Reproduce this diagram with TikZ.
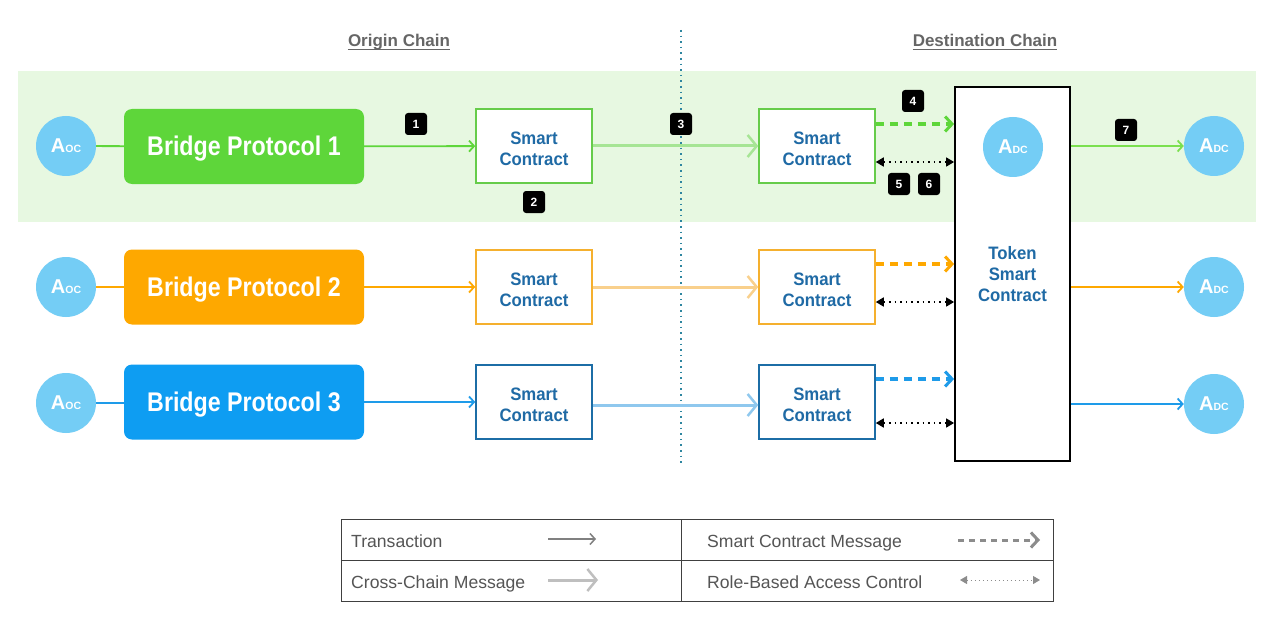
\documentclass[tikz,border=0pt]{standalone}
\usepackage{fontspec}
\setmainfont{Liberation Sans}
\newfontfamily\bpfont[FakeStretch=0.86]{Liberation Sans}
\newfontfamily\scfont[FakeStretch=0.93]{Liberation Sans}
\usetikzlibrary{arrows.meta}
\definecolor{band}{HTML}{E7F8E1}
\definecolor{circ}{HTML}{74CDF5}
\definecolor{bpgreen}{HTML}{5ED63A}
\definecolor{bporange}{HTML}{FEA800}
\definecolor{bpblue}{HTML}{0E9DF2}
\definecolor{scgreen}{HTML}{66CC4A}
\definecolor{scorange}{HTML}{F5B02E}
\definecolor{scblue}{HTML}{1C6DA6}
\definecolor{sctext}{HTML}{1F6AA5}
\definecolor{ccgreen}{HTML}{A6E594}
\definecolor{ccorange}{HTML}{F9D08C}
\definecolor{ccblue}{HTML}{8FC8EE}
\definecolor{outgreen}{HTML}{7BE04F}
\definecolor{outblue}{HTML}{1E9BE9}
\definecolor{divline}{HTML}{2E86A0}
\definecolor{headgray}{HTML}{666666}
\definecolor{leggray}{HTML}{555555}
\tikzset{
  acirc/.style={circle, fill=circ, minimum size=60pt, inner sep=0pt, text=white},
  bpbox/.style={rounded corners=8pt, minimum width=240pt, minimum height=75pt, inner sep=0pt, text=white, text height=19pt, text depth=0pt, font=\bpfont\bfseries\fontsize{27}{27}\selectfont},
  scbox/.style={draw, line width=1.5pt, fill=white, minimum width=116pt, minimum height=74pt, inner sep=0pt, align=center, text=sctext, font=\scfont\bfseries\fontsize{18}{21}\selectfont},
  badge/.style={fill=black, rounded corners=3pt, minimum size=22pt, inner sep=0pt, text=white, font=\bfseries\fontsize{12}{12}\selectfont},
  txline/.style={line width=1.8pt, -{Straight Barb[length=5pt,width=11pt]}},
  plain/.style={line width=1.8pt},
  ccmsg/.style={line width=3pt, -{Straight Barb[length=9pt,width=22pt,line width=2.5pt]}},
  scmsg/.style={line width=3.5pt, dash pattern=on 8pt off 6pt, -{Straight Barb[length=7pt,width=15pt,line width=3pt]}},
  rbac/.style={line width=1.6pt, dash pattern=on 1.6pt off 4pt, {Triangle[length=8pt,width=9pt]}-{Triangle[length=8pt,width=9pt]}},
  legtext/.style={anchor=base west, text=leggray, font=\fontsize{17.6}{18}\selectfont, inner sep=0pt},
  head/.style={anchor=base, inner sep=0pt, text=headgray, font=\bfseries\fontsize{17}{17}\selectfont},
}
\newcommand{\Aoc}{{\fontsize{20}{20}\selectfont\bfseries A}{\fontsize{10.5}{10.5}\selectfont\bfseries OC}}
\newcommand{\Adc}{{\fontsize{20}{20}\selectfont\bfseries A}{\fontsize{10.5}{10.5}\selectfont\bfseries DC}}
\newcommand{\sctwo}{\raisebox{-4.5pt}[\height][\depth]{\begin{tabular}{@{}c@{}}Smart\\Contract\end{tabular}}}
\begin{document}
\begin{tikzpicture}[x=1pt,y=-1pt]
\useasboundingbox (0,0) rectangle (1280,623);
\fill[white] (0,0) rectangle (1280,623);
% green band
\fill[band] (18,71) rectangle (1256,222);
% headers
\node[head] (hO) at (399,47) {Origin Chain};
\node[head] (hD) at (985,47) {Destination Chain};
\draw[headgray, line width=1.3pt] ([yshift=-2.5pt]hO.base west) -- ([yshift=-2.5pt]hO.base east);
\draw[headgray, line width=1.3pt] ([yshift=-2.5pt]hD.base west) -- ([yshift=-2.5pt]hD.base east);
% divider
\draw[divline, line width=1.6pt, dash pattern=on 1.6pt off 4pt] (681,30) coordinate (dtop) -- (681,465) coordinate (dbot);

% token smart contract
\node[draw=black, line width=1.8pt, fill=white, minimum width=115pt, minimum height=374pt, inner sep=0pt, align=center, text=sctext, font=\scfont\bfseries\fontsize{18}{21}\selectfont] (tsc) at (1012.5,274) {Token\\Smart\\Contract};
\node[acirc] (adc0) at (1013,147) {\Adc};

% row 1
\node[acirc] (a1) at (66,146) {\Aoc};
\node[bpbox, fill=bpgreen] (bp1) at (244,146.5) {Bridge Protocol 1};
\node[scbox, draw=scgreen] (scl1) at (534,146) {\sctwo};
\node[scbox, draw=scgreen] (scr1) at (817,146) {\sctwo};
\node[acirc] (o1) at (1214,146) {\Adc};
\draw[plain, bpgreen] (a1) -- (bp1);
\draw[txline, bpgreen] (bp1) -- (scl1);
\draw[ccmsg, ccgreen] (scl1) -- (scr1);
\draw[scmsg, bpgreen] ([yshift=22pt]scr1.east) -- ([yshift=22pt]scr1.east -| tsc.west);
\draw[rbac, black] ([yshift=-16pt]scr1.east) -- ([yshift=-16pt]scr1.east -| tsc.west);
\draw[txline, outgreen] (tsc.east |- o1) -- (o1);

% row 2
\node[acirc] (a2) at (66,287) {\Aoc};
\node[bpbox, fill=bporange] (bp2) at (244,287) {Bridge Protocol 2};
\node[scbox, draw=scorange] (scl2) at (534,287) {\sctwo};
\node[scbox, draw=scorange] (scr2) at (817,287) {\sctwo};
\node[acirc] (o2) at (1214,287) {\Adc};
\draw[plain, bporange] (a2) -- (bp2);
\draw[txline, bporange] (bp2) -- (scl2);
\draw[ccmsg, ccorange] (scl2) -- (scr2);
\draw[scmsg, bporange] ([yshift=23pt]scr2.east) -- ([yshift=23pt]scr2.east -| tsc.west);
\draw[rbac, black] ([yshift=-15pt]scr2.east) -- ([yshift=-15pt]scr2.east -| tsc.west);
\draw[txline, bporange] (tsc.east |- o2) -- (o2);

% row 3
\node[acirc] (a3) at (66,403) {\Aoc};
\node[bpbox, fill=bpblue] (bp3) at (244,402) {Bridge Protocol 3};
\node[scbox, draw=scblue] (scl3) at (534,402) {\sctwo};
\node[scbox, draw=scblue] (scr3) at (817,402) {\sctwo};
\node[acirc] (o3) at (1214,404) {\Adc};
\draw[plain, outblue] (a3) -- (a3 -| bp3.west);
\draw[txline, outblue] (bp3) -- (scl3);
\draw[ccmsg, ccblue] ([yshift=-3pt]scl3.east) -- ([yshift=-3pt]scr3.west);
\draw[scmsg, outblue] ([yshift=23pt]scr3.east) -- ([yshift=23pt]scr3.east -| tsc.west);
\draw[rbac, black] ([yshift=-21pt]scr3.east) -- ([yshift=-21pt]scr3.east -| tsc.west);
\draw[txline, outblue] (tsc.east |- o3) -- (o3);

% badges
\node[badge] (b1) at (416,124) {1};
\node[badge] (b2) at (534,202) {2};
\node[badge] (b3) at (681,124) {3};
\node[badge] (b4) at (913,101) {4};
\node[badge] (b5) at (899,184) {5};
\node[badge] (b6) at (929,184) {6};
\node[badge] (b7) at (1126,130) {7};

% legend
\draw[black!75, line width=1pt] (341,519) rectangle (1053,601);
\draw[black!75, line width=1pt] (681,519) -- (681,601);
\draw[black!75, line width=1pt] (341,560) -- (1053,560);
\node[legtext] (l1) at (351,547) {Transaction};
\node[legtext] (l2) at (707,547) {Smart Contract Message};
\node[legtext] (l3) at (351,588) {Cross-Chain Message};
\node[legtext] (l4) at (707,588) {Role-Based Access Control};
\coordinate (t1a) at (548,539); \coordinate (t1b) at (596,539);
\coordinate (t2a) at (958,540); \coordinate (t2b) at (1040,540);
\coordinate (t3a) at (548,580); \coordinate (t3b) at (598,580);
\coordinate (t4a) at (960,580); \coordinate (t4b) at (1040,580);
\draw[txline, black!50, line width=1.5pt] (t1a) -- (t1b);
\draw[scmsg, black!45, line width=3pt, dash pattern=on 6pt off 5pt] (t2a) -- (t2b);
\draw[ccmsg, black!25] (t3a) -- (t3b);
\draw[rbac, black!45, line width=1pt, dash pattern=on 1pt off 3pt, {Triangle[length=7pt,width=8pt]}-{Triangle[length=7pt,width=8pt]}] (t4a) -- (t4b);
\end{tikzpicture}
\end{document}
